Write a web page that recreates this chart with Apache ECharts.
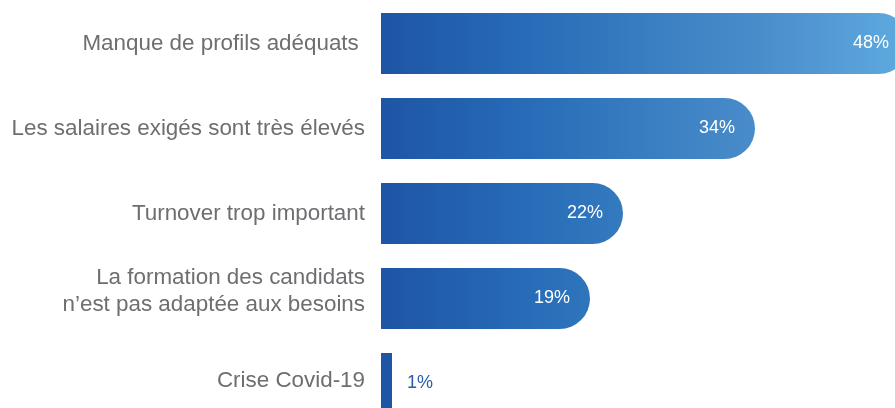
<!DOCTYPE html>
<html>
<head>
<meta charset="utf-8">
<script src="https://cdn.jsdelivr.net/npm/echarts@6/dist/echarts.min.js"></script>
<style>
  html, body { margin: 0; padding: 0; background: #ffffff; }
  #chart { width: 895px; height: 408px; }
</style>
</head>
<body>
<div id="chart"></div>
<script>
// Reasons given for recruitment difficulties (share of respondents, %)
const categories = [
  'Manque de profils adéquats ',
  'Les salaires exigés sont très élevés',
  'Turnover trop important',
  'La formation des candidats\nn’est pas adaptée aux besoins',
  'Crise Covid-19'
];
const values = [48, 34, 22, 19, 1];

const chart = echarts.init(document.getElementById('chart'), null, { renderer: 'canvas' });

const GRID_LEFT = 381;
const X_MAX = 50;
const PX_PER_UNIT = 11;
const ROW = 85;
const FONT = '"Liberation Sans", Arial, sans-serif';

// One horizontal gradient shared by all bars, in absolute pixels
const barGradient = {
  type: 'linear',
  x: GRID_LEFT, y: 0, x2: GRID_LEFT + 48 * PX_PER_UNIT, y2: 0,
  global: true,
  colorStops: [
    { offset: 0.00, color: '#1e55a4' },
    { offset: 0.22, color: '#2567b4' },
    { offset: 0.34, color: '#2b71ba' },
    { offset: 0.53, color: '#3b80c2' },
    { offset: 0.72, color: '#4a8dcb' },
    { offset: 1.00, color: '#5eabdf' }
  ]
};

const labelBase = { color: '#6d6e71', fontSize: 22.4, lineHeight: 27, fontFamily: FONT };

// Category text: a blank trailing line lifts the two-line label and the last one
function formatCategory(value, index) {
  const lines = value.split('\n').map(function (l) { return '{n|' + l + '}'; });
  if (lines.length > 1) lines.push('{gapL|\u00a0}');
  else if (index === categories.length - 1) lines.push('{gapS|\u00a0}');
  return lines.join('\n');
}

const seriesData = values.map(function (v) {
  const small = v < 5;
  return {
    value: v,
    itemStyle: { borderRadius: small ? 0 : [0, 31, 31, 0] },
    label: small
      ? { position: 'right', distance: 15, color: '#2a5caa' }
      : { position: 'insideRight', distance: 20, color: '#ffffff' }
  };
});

const option = {
  animation: false,
  grid: {
    left: GRID_LEFT,
    top: 1,
    width: X_MAX * PX_PER_UNIT,
    height: categories.length * ROW,
    containLabel: false,
    outerBoundsMode: 'none'
  },
  xAxis: {
    type: 'value',
    min: 0,
    max: X_MAX,
    show: false
  },
  yAxis: {
    type: 'category',
    inverse: true,
    data: categories,
    axisLine: { show: false },
    axisTick: { show: false },
    splitLine: { show: false },
    axisLabel: Object.assign({
      margin: 16,
      align: 'right',
      formatter: formatCategory,
      rich: {
        n: Object.assign({}, labelBase),
        gapL: { fontSize: 4, lineHeight: 14, fontFamily: FONT },
        gapS: { fontSize: 4, lineHeight: 6, fontFamily: FONT }
      }
    }, labelBase)
  },
  series: [{
    type: 'bar',
    data: seriesData,
    barWidth: 61,
    clip: false,
    itemStyle: { color: barGradient },
    label: {
      show: true,
      fontSize: 18,
      fontFamily: FONT,
      formatter: '{c}%'
    }
  }]
};

chart.setOption(option);
</script>
</body>
</html>
